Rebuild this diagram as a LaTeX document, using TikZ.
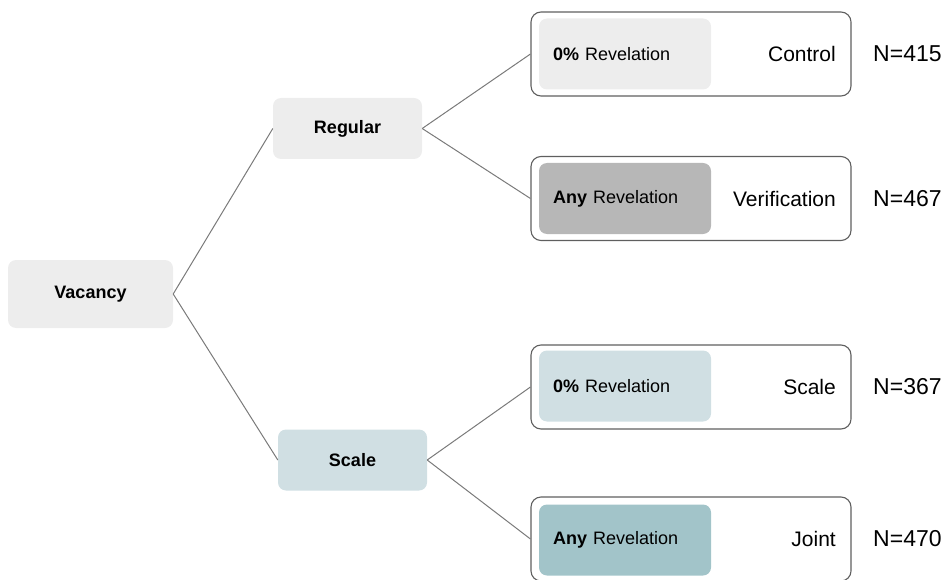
\documentclass[tikz,border=0pt]{standalone}
\usepackage{fontspec}
\setmainfont{Liberation Sans}
\usepackage{xcolor}
\usepackage{tikz}
\definecolor{lightgrey}{HTML}{EDEDED}
\definecolor{midgrey}{HTML}{B7B7B7}
\definecolor{lightteal}{HTML}{D0DFE3}
\definecolor{midteal}{HTML}{A2C4C9}
\definecolor{edgegrey}{HTML}{5F5F5F}
\definecolor{linkgrey}{HTML}{7A7A7A}

\begin{document}
\begin{tikzpicture}[x=1pt, y=-1pt,
    branch/.style={rounded corners=8pt, minimum width=149pt, minimum height=61pt, font=\fontsize{18}{21}\selectfont\bfseries},
    arm/.style={draw=edgegrey, line width=1.1pt, rounded corners=10pt, minimum width=320pt, minimum height=84pt},
    reveal/.style={rounded corners=8pt, text width=144pt, inner xsep=14pt, minimum height=71pt, align=left, font=\fontsize{18}{21}\selectfont},
    armlabel/.style={anchor=east, inner sep=0pt, font=\fontsize{21}{24}\selectfont},
    count/.style={anchor=west, inner sep=0pt, font=\fontsize{23}{26}\selectfont},
    link/.style={draw=linkgrey, line width=1pt}]
    \clip (0,0) rectangle (947,580);
    \useasboundingbox (0,0) rectangle (947,580);

    % Tree nodes
    \node[branch, fill=lightgrey, minimum width=165pt, minimum height=68pt] (vacancy) at (90.5,294) {Vacancy};
    \node[branch, fill=lightgrey] (regular) at (347.5,128.5) {Regular};
    \node[branch, fill=lightteal] (scale) at (352.5,460) {Scale};

    % Treatment arms
    \node[arm] (control) at (691,54) {};
    \node[arm] (verif) at (691,198.5) {};
    \node[arm] (scalearm) at (691,387) {};
    \node[arm] (joint) at (691,539) {};

    \node[reveal, fill=lightgrey] (r1) at (625,54) {\textbf{0\%} Revelation};
    \node[reveal, fill=midgrey] (r2) at (625,198.5) {\textbf{Any} Revelation};
    \node[reveal, fill=lightteal] (r3) at (625,386) {\textbf{0\%} Revelation};
    \node[reveal, fill=midteal] (r4) at (625,540) {\textbf{Any} Revelation};

    \node[armlabel] (l1) at (836,54) {Control};
    \node[armlabel] (l2) at (836,198.5) {Verification};
    \node[armlabel] (l3) at (836,387) {Scale};
    \node[armlabel] (l4) at (836,539) {Joint};

    % Sample sizes
    \node[count] (n1) at (873,54) {N=415};
    \node[count] (n2) at (873,198.5) {N=467};
    \node[count] (n3) at (873,387) {N=367};
    \node[count] (n4) at (873,539) {N=470};

    % Connectors
    \draw[link] (vacancy.east) -- (regular.west);
    \draw[link] (vacancy.east) -- (scale.west);
    \draw[link] (regular.east) -- (control.west);
    \draw[link] (regular.east) -- (verif.west);
    \draw[link] (scale.east) -- (scalearm.west);
    \draw[link] (scale.east) -- (joint.west);
\end{tikzpicture}
\end{document}
